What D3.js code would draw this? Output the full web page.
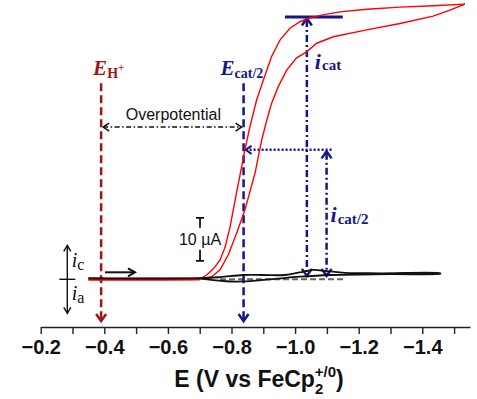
<!DOCTYPE html>
<html>
<head>
<meta charset="utf-8">
<script src="https://cdn.jsdelivr.net/npm/d3@7"></script>
<style>
  body { margin: 0; background: #fff; }
  svg { display: block; }
</style>
</head>
<body>
<svg id="chart" width="477" height="399"></svg>
<script>
// potential axis ticks (V vs FeCp2+/0)
const potentialTicks = [-0.2, -0.3, -0.4, -0.5, -0.6, -0.7, -0.8, -0.9, -1.0, -1.1, -1.2, -1.3, -1.4, -1.5];
const labelTicks = [-0.2, -0.4, -0.6, -0.8, -1.0, -1.2, -1.4];

// red CV (with acid): [E, i(uA)]
const redForward = [
  [-0.35, 0], [-0.60, 0], [-0.70, 0.05], [-0.722, 1.0], [-0.745, 2.6], [-0.764, 4.5], [-0.78, 7.5],
  [-0.795, 12.0], [-0.816, 20.2], [-0.832, 26.2], [-0.842, 30.1], [-0.858, 35.5],
  [-0.879, 41.7], [-0.900, 46.3], [-0.926, 51.8], [-0.953, 55.7], [-0.984, 58.4],
  [-1.015, 59.9], [-1.042, 60.7], [-1.088, 61.5], [-1.141, 62.2], [-1.225, 62.8],
  [-1.330, 63.3], [-1.434, 63.6], [-1.534, 64.0]
];
const redReturn = [
  [-1.534, 64.0], [-1.487, 62.6], [-1.434, 61.2], [-1.330, 59.5], [-1.225, 58.0],
  [-1.120, 56.4], [-1.068, 54.9], [-1.036, 52.9], [-1.005, 51.5], [-0.974, 48.7],
  [-0.947, 44.8], [-0.926, 40.9], [-0.911, 37.0], [-0.895, 32.4], [-0.874, 24.7],
  [-0.842, 16.1], [-0.816, 10.7], [-0.790, 5.7], [-0.764, 2.2], [-0.738, 0.6],
  [-0.711, 0.1], [-0.68, 0], [-0.35, 0]
];

// black CV (no acid)
const blackForward = [
  [-0.35, 0.25], [-0.70, 0.25], [-0.764, 0.5], [-0.836, 1.0], [-0.899, 1.0], [-0.968, 1.0],
  [-1.015, 1.6], [-1.056, 2.2], [-1.100, 1.9], [-1.157, 1.5], [-1.267, 1.4], [-1.457, 1.4]
];
const blackReturn = [
  [-1.457, 1.3], [-1.30, 1.2], [-1.11, 1.0], [-1.015, 0.6], [-0.921, 0.0],
  [-0.836, -0.5], [-0.773, -0.4], [-0.70, 0.2]
];

// annotation values
const E_H = -0.39;
const E_cat2 = -0.838;
const E_icat = -1.037;
const E_icat2 = -1.099;
const i_cat = 61.0;
const i_cat2 = 30.1;
const topBar = [-0.968, -1.150];
const dottedEnd = -1.119;
const grayDash = [-0.764, -1.151];
const scaleBarE = -0.701;
const scaleBar = [4.3, 14.3];   // 10 uA
const labelTopI = 45.6;

const sans = "'Liberation Sans', Arial, Helvetica, sans-serif";
const serif = "'Liberation Serif', 'Times New Roman', serif";
const navy = '#16168a';
const darkRed = '#a01515';

const svg = d3.select('#chart');
const axisY = 327;

const x = d3.scaleLinear().domain([-0.2, -1.55]).range([40.7, 470]);
const y = d3.scaleLinear().domain([0, 10]).range([279.3, 236.3]);

// x axis
const xAxis = d3.axisBottom(x)
  .tickValues(potentialTicks)
  .tickSizeInner(7)
  .tickSizeOuter(0)
  .tickPadding(6)
  .tickFormat(d => labelTicks.some(t => Math.abs(t - d) < 1e-9) ? d3.format('.1f')(d) : '');

const xAxisG = svg.append('g')
  .attr('transform', `translate(0,${axisY})`)
  .call(xAxis);
xAxisG.select('.domain').attr('stroke', '#222').attr('stroke-width', 1.6);
xAxisG.selectAll('.tick line').attr('stroke', '#222').attr('stroke-width', 1.4);
xAxisG.selectAll('.tick text')
  .attr('font-family', sans)
  .attr('font-weight', 'bold')
  .attr('font-size', 20)
  .attr('fill', '#111');

// axis title with stacked sub/superscript
const title = svg.append('text')
  .attr('x', 259)
  .attr('y', 387)
  .attr('text-anchor', 'middle')
  .attr('font-family', sans)
  .attr('font-weight', 'bold')
  .attr('font-size', 23)
  .attr('fill', '#111');
title.append('tspan').text('E (V vs FeCp');
title.append('tspan').attr('font-size', 15).attr('dy', 7).text('2');
title.append('tspan').attr('font-size', 15).attr('dx', -8.5).attr('dy', -17).text('+/0');
title.append('tspan').attr('dy', 10).text(')');

const line = d3.line().x(d => x(d[0])).y(d => y(d[1]));

// chevron arrow head, pointing along angle (0 = down)
function arrowHead(g, px, py, angle, color, w, l, sw) {
  g.append('path')
    .attr('d', `M${-w},${-l} L0,0 L${w},${-l}`)
    .attr('transform', `translate(${px},${py}) rotate(${angle})`)
    .attr('fill', 'none')
    .attr('stroke', color)
    .attr('stroke-width', sw)
    .attr('stroke-linejoin', 'miter');
}

const ann = svg.append('g');

// gray dashed reference
ann.append('line')
  .attr('x1', x(grayDash[0])).attr('x2', x(grayDash[1]))
  .attr('y1', y(0)).attr('y2', y(0))
  .attr('stroke', '#666').attr('stroke-width', 2)
  .attr('stroke-dasharray', '6,3');

// red CV
svg.append('path')
  .datum(redForward.concat(redReturn))
  .attr('d', line)
  .attr('fill', 'none')
  .attr('stroke', '#ff0000')
  .attr('stroke-width', 1.4);
svg.append('path')
  .datum(redForward.filter(d => d[1] <= 0.05))
  .attr('d', line)
  .attr('fill', 'none')
  .attr('stroke', '#ff0000')
  .attr('stroke-width', 3);

// black CV
svg.append('path')
  .datum(blackForward.concat(blackReturn))
  .attr('d', d3.line().x(d => x(d[0])).y(d => y(d[1])).curve(d3.curveCatmullRom))
  .attr('fill', 'none')
  .attr('stroke', '#111')
  .attr('stroke-width', 1.8);

// E_H+ dashed line
ann.append('line')
  .attr('x1', x(E_H)).attr('x2', x(E_H))
  .attr('y1', y(labelTopI)).attr('y2', axisY - 7)
  .attr('stroke', darkRed).attr('stroke-width', 2.5)
  .attr('stroke-dasharray', '8,4');
arrowHead(ann, x(E_H), axisY - 6, 0, darkRed, 5, 7, 2.5);

// E_cat/2 dashed line
ann.append('line')
  .attr('x1', x(E_cat2)).attr('x2', x(E_cat2))
  .attr('y1', y(labelTopI)).attr('y2', axisY - 7)
  .attr('stroke', navy).attr('stroke-width', 2.5)
  .attr('stroke-dasharray', '8,4');
arrowHead(ann, x(E_cat2), axisY - 6, 0, navy, 5, 7, 2.5);

// overpotential arrow
const opY = y(35.4);
ann.append('line')
  .attr('x1', x(E_H) + 2).attr('x2', x(E_cat2) - 2)
  .attr('y1', opY).attr('y2', opY)
  .attr('stroke', '#111').attr('stroke-width', 1.5)
  .attr('stroke-dasharray', '5,2.5,1.5,2.5');
arrowHead(ann, x(E_H) + 2, opY, 90, '#111', 4, 6, 1.6);
arrowHead(ann, x(E_cat2) - 2, opY, -90, '#111', 4, 6, 1.6);
ann.append('text')
  .attr('x', (x(E_H) + x(E_cat2)) / 2 + 1)
  .attr('y', opY - 7)
  .attr('text-anchor', 'middle')
  .attr('font-family', sans)
  .attr('font-size', 16)
  .attr('fill', '#111')
  .text('Overpotential');

// i_cat bar and arrow
ann.append('line')
  .attr('x1', x(topBar[0])).attr('x2', x(topBar[1]))
  .attr('y1', y(i_cat)).attr('y2', y(i_cat))
  .attr('stroke', navy).attr('stroke-width', 2.8);
ann.append('line')
  .attr('x1', x(E_icat)).attr('x2', x(E_icat))
  .attr('y1', y(i_cat) + 3).attr('y2', y(0.8) - 2)
  .attr('stroke', navy).attr('stroke-width', 2.5)
  .attr('stroke-dasharray', '7,3,2,3');
arrowHead(ann, x(E_icat), y(i_cat) + 1.5, 180, navy, 5, 7, 2.5);
arrowHead(ann, x(E_icat), y(0.8), 0, navy, 5, 7, 2.5);

// i_cat/2 dotted line and arrow
ann.append('line')
  .attr('x1', x(E_cat2) + 2).attr('x2', x(dottedEnd))
  .attr('y1', y(i_cat2)).attr('y2', y(i_cat2))
  .attr('stroke', navy).attr('stroke-width', 2.5)
  .attr('stroke-dasharray', '2,2');
arrowHead(ann, x(E_cat2) + 2, y(i_cat2), 90, navy, 4, 6, 2);
ann.append('line')
  .attr('x1', x(E_icat2)).attr('x2', x(E_icat2))
  .attr('y1', y(i_cat2) + 3).attr('y2', y(0.8) - 2)
  .attr('stroke', navy).attr('stroke-width', 2.5)
  .attr('stroke-dasharray', '7,3,2,3');
arrowHead(ann, x(E_icat2), y(i_cat2) + 1.5, 180, navy, 5, 7, 2.5);
arrowHead(ann, x(E_icat2), y(0.8), 0, navy, 5, 7, 2.5);

// labels
function subLabel(px, py, main, sub, color, opts) {
  const t = ann.append('text')
    .attr('x', px).attr('y', py)
    .attr('font-family', serif)
    .attr('font-weight', opts.weight)
    .attr('fill', color);
  t.append('tspan')
    .attr('font-style', 'italic')
    .attr('font-size', opts.mainSize)
    .text(main);
  t.append('tspan')
    .attr('font-size', opts.subSize)
    .attr('dx', opts.dx || 0)
    .attr('dy', opts.subDy)
    .text(sub);
  return t;
}
const eH = subLabel(x(E_H) - 8, y(labelTopI) - 8, 'E', 'H', darkRed,
  { weight: 'bold', mainSize: 21, subSize: 14, subDy: 3 });
eH.append('tspan').attr('font-size', 11).attr('dy', -7).text('+');
subLabel(x(E_cat2) - 23, y(labelTopI) - 8, 'E', 'cat/2', navy,
  { weight: 'bold', mainSize: 21, subSize: 14, subDy: 3 });
subLabel(x(E_icat) + 8, 69, 'i', 'cat', navy,
  { weight: 'bold', mainSize: 22, subSize: 15, subDy: 1, dx: 1 });
subLabel(x(E_icat2) + 4, 222, 'i', 'cat/2', navy,
  { weight: 'bold', mainSize: 22, subSize: 15, subDy: 2, dx: 1 });

// scale bar
const sbx = x(scaleBarE);
const sbTop = y(scaleBar[1]), sbBot = y(scaleBar[0]);
ann.append('path')
  .attr('d', `M${sbx - 4},${sbTop} H${sbx + 4} M${sbx},${sbTop} V${sbTop + 10}` +
             `M${sbx},${sbBot - 11} V${sbBot} M${sbx - 4},${sbBot} H${sbx + 4}`)
  .attr('stroke', '#111').attr('stroke-width', 1.8).attr('fill', 'none');
ann.append('text')
  .attr('x', sbx).attr('y', (sbTop + sbBot) / 2 + 6)
  .attr('text-anchor', 'middle')
  .attr('font-family', sans)
  .attr('font-size', 16)
  .attr('fill', '#111')
  .text('10 \u00b5A');

// legend of current sign
const lgx = 67.3;
ann.append('line').attr('x1', lgx).attr('x2', lgx)
  .attr('y1', y(0) - 33).attr('y2', y(0) + 33)
  .attr('stroke', '#111').attr('stroke-width', 1.4);
arrowHead(ann, lgx, y(0) - 34, 180, '#111', 3.5, 6, 1.4);
arrowHead(ann, lgx, y(0) + 34, 0, '#111', 3.5, 6, 1.4);
ann.append('line').attr('x1', lgx - 8).attr('x2', lgx + 8)
  .attr('y1', y(0)).attr('y2', y(0))
  .attr('stroke', '#111').attr('stroke-width', 1.4);
subLabel(lgx + 4.5, y(0) - 12, 'i', 'c', '#111',
  { weight: 'normal', mainSize: 20, subSize: 16, subDy: 3 });
subLabel(lgx + 4.5, y(0) + 21, 'i', 'a', '#111',
  { weight: 'normal', mainSize: 20, subSize: 16, subDy: 3 });

// scan direction arrow
const scanY = y(0) - 7;
ann.append('line').attr('x1', 105).attr('x2', 134)
  .attr('y1', scanY).attr('y2', scanY)
  .attr('stroke', '#111').attr('stroke-width', 2);
arrowHead(ann, 135, scanY, -90, '#111', 4, 7, 2);
</script>
</body>
</html>
